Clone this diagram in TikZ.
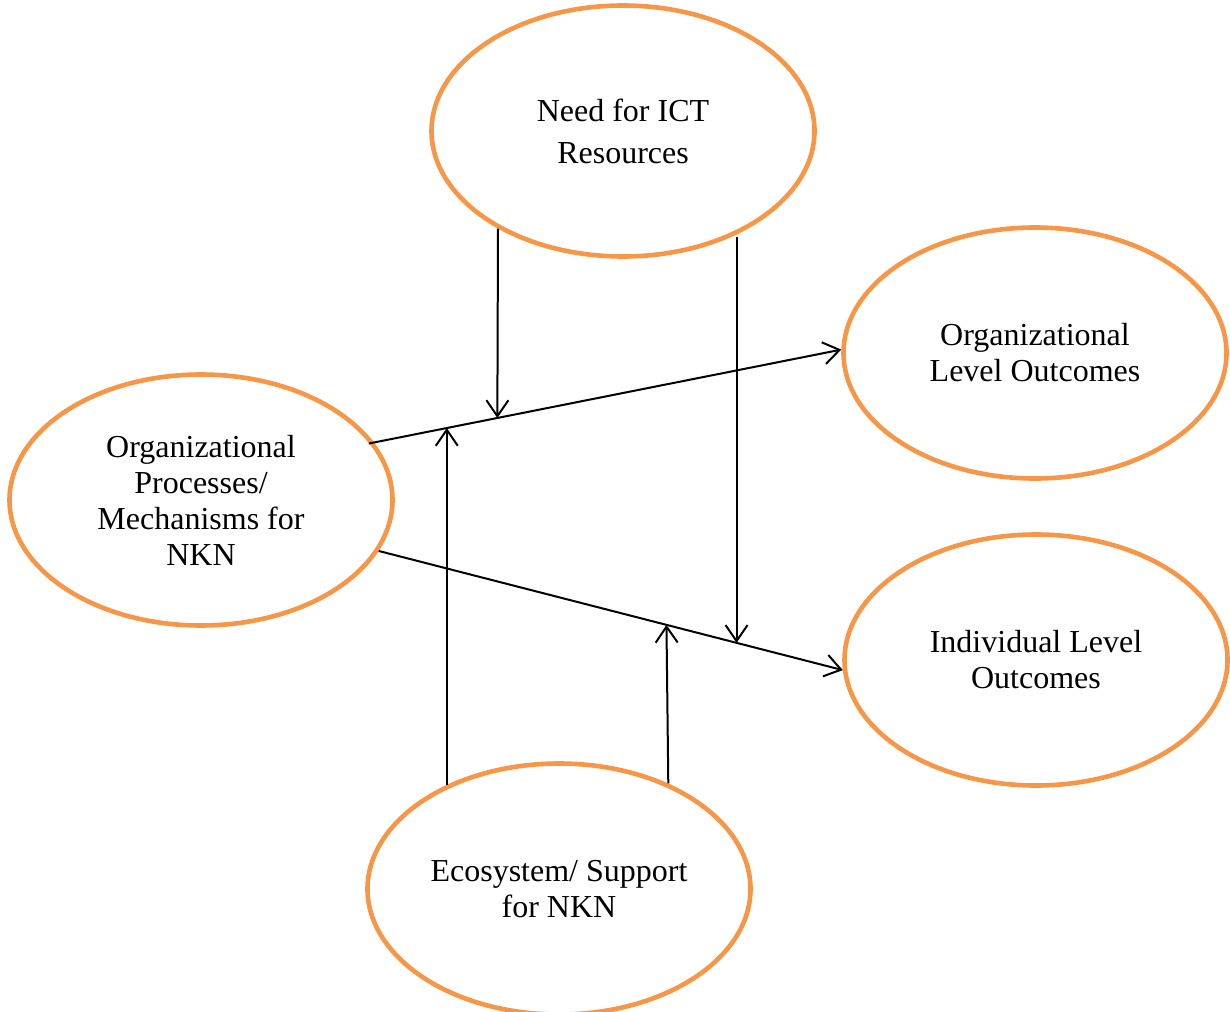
\documentclass[tikz,border=0pt]{standalone}
\usepackage{fontspec}
\setmainfont{Liberation Serif}
\usetikzlibrary{shapes.geometric,arrows.meta}
\definecolor{accent}{HTML}{F79646}
\begin{document}
\begin{tikzpicture}[x=0.5pt,y=-0.5pt,
  oval/.style={ellipse,draw=accent,line width=2.3pt,minimum width=191.5pt,minimum height=125.5pt,align=center,inner sep=0pt,font=\fontsize{16}{18}\selectfont},
  link/.style={line width=1pt,-{Straight Barb[length=8pt,width=11pt]}}]
\useasboundingbox (0,0) rectangle (1230,1011);
\node[oval,font=\fontsize{16}{21}\selectfont] (need) at (623,131) {Need for ICT\\Resources};
\node[oval] (orgout) at (1035,353) {Organizational\\Level Outcomes};
\node[oval] (indout) at (1036,660) {Individual Level\\Outcomes};
\node[oval] (proc) at (201,500) {Organizational\\Processes/\\Mechanisms for\\NKN};
\node[oval] (eco) at (559,889) {Ecosystem/ Support\\for NKN};
% main paths
\draw[link] ([xshift=-3pt]proc.18) -- coordinate[pos=0.165] (m3) coordinate[pos=0.272] (m1) (orgout.179);
\draw[link] (proc.-16) -- coordinate[pos=0.62] (m4) coordinate[pos=0.771] (m2) (indout.183);
% moderators
\draw[link] (need.218) -- (m1);
\draw[link] (need.-44 -| m2) -- (m2);
\draw[link] (eco.137 -| m3) -- (m3);
\draw[link] (eco.44) -- (m4);
\end{tikzpicture}
\end{document}
